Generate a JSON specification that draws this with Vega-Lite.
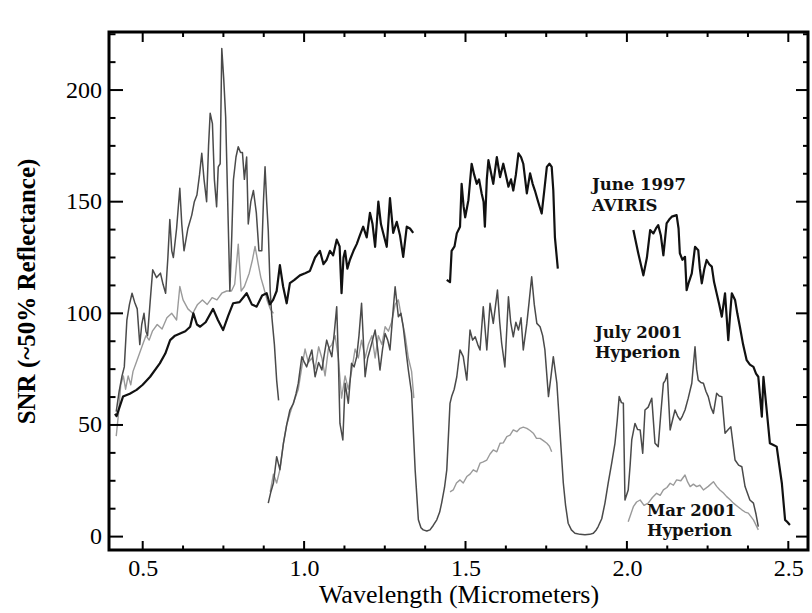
{
  "$schema": "https://vega.github.io/schema/vega-lite/v6.json",
  "width": 699,
  "height": 518,
  "autosize": {"type": "none"},
  "padding": {"left": 109, "top": 32, "right": 4, "bottom": 63},
  "background": "white",
  "config": {
    "view": {"stroke": "black", "strokeWidth": 3},
    "axis": {
      "grid": false,
      "domain": false,
      "ticks": false,
      "tickSize": 0,
      "labelFont": "Liberation Serif",
      "labelFontSize": 24,
      "labelColor": "black",
      "labelOverlap": false,
      "labelFlush": false,
      "titleFont": "Liberation Serif",
      "titleColor": "black",
      "titleFontWeight": "normal"
    },
    "tick": {"color": "black", "thickness": 2, "opacity": 1}
  },
  "datasets": {
    "x_major": [{"wl": 0.5}, {"wl": 1.0}, {"wl": 1.5}, {"wl": 2.0}, {"wl": 2.5}],
    "x_minor": [{"wl": 0.625}, {"wl": 0.75}, {"wl": 0.875}, {"wl": 1.125}, {"wl": 1.25}, {"wl": 1.375}, {"wl": 1.625}, {"wl": 1.75}, {"wl": 1.875}, {"wl": 2.125}, {"wl": 2.25}, {"wl": 2.375}],
    "y_major": [{"snr": 0}, {"snr": 50}, {"snr": 100}, {"snr": 150}, {"snr": 200}],
    "y_minor": [{"snr": 12.5}, {"snr": 25}, {"snr": 37.5}, {"snr": 62.5}, {"snr": 75}, {"snr": 87.5}, {"snr": 112.5}, {"snr": 125}, {"snr": 137.5}, {"snr": 162.5}, {"snr": 175}, {"snr": 187.5}, {"snr": 212.5}, {"snr": 225}],
    "aviris": [
      {"seg": 1, "wl": 0.414, "snr": 55}, {"seg": 1, "wl": 0.419, "snr": 54}, {"seg": 1, "wl": 0.439, "snr": 62.7}, {"seg": 1, "wl": 0.46, "snr": 64},
      {"seg": 1, "wl": 0.481, "snr": 65.7}, {"seg": 1, "wl": 0.5, "snr": 68}, {"seg": 1, "wl": 0.523, "snr": 71.6}, {"seg": 1, "wl": 0.553, "snr": 77.6},
      {"seg": 1, "wl": 0.57, "snr": 82}, {"seg": 1, "wl": 0.585, "snr": 88}, {"seg": 1, "wl": 0.6, "snr": 90}, {"seg": 1, "wl": 0.616, "snr": 91},
      {"seg": 1, "wl": 0.632, "snr": 92}, {"seg": 1, "wl": 0.647, "snr": 94}, {"seg": 1, "wl": 0.657, "snr": 100}, {"seg": 1, "wl": 0.668, "snr": 95},
      {"seg": 1, "wl": 0.678, "snr": 94}, {"seg": 1, "wl": 0.695, "snr": 96}, {"seg": 1, "wl": 0.718, "snr": 102}, {"seg": 1, "wl": 0.733, "snr": 97},
      {"seg": 1, "wl": 0.749, "snr": 92.5}, {"seg": 1, "wl": 0.765, "snr": 99}, {"seg": 1, "wl": 0.78, "snr": 104.5}, {"seg": 1, "wl": 0.8, "snr": 105},
      {"seg": 1, "wl": 0.822, "snr": 109}, {"seg": 1, "wl": 0.838, "snr": 104}, {"seg": 1, "wl": 0.853, "snr": 103}, {"seg": 1, "wl": 0.87, "snr": 108},
      {"seg": 1, "wl": 0.884, "snr": 109}, {"seg": 1, "wl": 0.894, "snr": 104}, {"seg": 1, "wl": 0.904, "snr": 106}, {"seg": 1, "wl": 0.915, "snr": 110},
      {"seg": 1, "wl": 0.925, "snr": 121.6}, {"seg": 1, "wl": 0.935, "snr": 112}, {"seg": 1, "wl": 0.946, "snr": 104.5}, {"seg": 1, "wl": 0.956, "snr": 113.5},
      {"seg": 1, "wl": 0.97, "snr": 115}, {"seg": 1, "wl": 0.987, "snr": 117}, {"seg": 1, "wl": 1.003, "snr": 118}, {"seg": 1, "wl": 1.018, "snr": 119},
      {"seg": 1, "wl": 1.034, "snr": 125}, {"seg": 1, "wl": 1.049, "snr": 128}, {"seg": 1, "wl": 1.06, "snr": 122}, {"seg": 1, "wl": 1.07, "snr": 124},
      {"seg": 1, "wl": 1.08, "snr": 128}, {"seg": 1, "wl": 1.09, "snr": 126}, {"seg": 1, "wl": 1.101, "snr": 133}, {"seg": 1, "wl": 1.11, "snr": 130},
      {"seg": 1, "wl": 1.116, "snr": 109}, {"seg": 1, "wl": 1.122, "snr": 125}, {"seg": 1, "wl": 1.127, "snr": 128}, {"seg": 1, "wl": 1.134, "snr": 120},
      {"seg": 1, "wl": 1.142, "snr": 124}, {"seg": 1, "wl": 1.153, "snr": 128}, {"seg": 1, "wl": 1.163, "snr": 131}, {"seg": 1, "wl": 1.173, "snr": 135},
      {"seg": 1, "wl": 1.183, "snr": 138.8}, {"seg": 1, "wl": 1.194, "snr": 134}, {"seg": 1, "wl": 1.204, "snr": 145}, {"seg": 1, "wl": 1.212, "snr": 140},
      {"seg": 1, "wl": 1.22, "snr": 129.8}, {"seg": 1, "wl": 1.23, "snr": 150}, {"seg": 1, "wl": 1.238, "snr": 140}, {"seg": 1, "wl": 1.245, "snr": 136},
      {"seg": 1, "wl": 1.256, "snr": 129.8}, {"seg": 1, "wl": 1.266, "snr": 151.6}, {"seg": 1, "wl": 1.276, "snr": 136}, {"seg": 1, "wl": 1.287, "snr": 141},
      {"seg": 1, "wl": 1.297, "snr": 135}, {"seg": 1, "wl": 1.307, "snr": 125.3}, {"seg": 1, "wl": 1.318, "snr": 138.8}, {"seg": 1, "wl": 1.328, "snr": 138},
      {"seg": 1, "wl": 1.338, "snr": 136},
      {"seg": 2, "wl": 1.442, "snr": 115}, {"seg": 2, "wl": 1.452, "snr": 114}, {"seg": 2, "wl": 1.457, "snr": 128}, {"seg": 2, "wl": 1.466, "snr": 130},
      {"seg": 2, "wl": 1.473, "snr": 135.8}, {"seg": 2, "wl": 1.483, "snr": 138.8}, {"seg": 2, "wl": 1.488, "snr": 158}, {"seg": 2, "wl": 1.494, "snr": 148},
      {"seg": 2, "wl": 1.499, "snr": 143}, {"seg": 2, "wl": 1.509, "snr": 150.7}, {"seg": 2, "wl": 1.519, "snr": 167}, {"seg": 2, "wl": 1.527, "snr": 162},
      {"seg": 2, "wl": 1.535, "snr": 158}, {"seg": 2, "wl": 1.542, "snr": 160}, {"seg": 2, "wl": 1.55, "snr": 153.7}, {"seg": 2, "wl": 1.556, "snr": 150},
      {"seg": 2, "wl": 1.56, "snr": 138.8}, {"seg": 2, "wl": 1.566, "snr": 160}, {"seg": 2, "wl": 1.571, "snr": 168.6}, {"seg": 2, "wl": 1.579, "snr": 163},
      {"seg": 2, "wl": 1.586, "snr": 158}, {"seg": 2, "wl": 1.597, "snr": 170}, {"seg": 2, "wl": 1.607, "snr": 161}, {"seg": 2, "wl": 1.617, "snr": 167},
      {"seg": 2, "wl": 1.625, "snr": 162}, {"seg": 2, "wl": 1.633, "snr": 156.7}, {"seg": 2, "wl": 1.641, "snr": 160}, {"seg": 2, "wl": 1.648, "snr": 155},
      {"seg": 2, "wl": 1.656, "snr": 162}, {"seg": 2, "wl": 1.664, "snr": 171.6}, {"seg": 2, "wl": 1.672, "snr": 170}, {"seg": 2, "wl": 1.679, "snr": 167},
      {"seg": 2, "wl": 1.69, "snr": 153.7}, {"seg": 2, "wl": 1.7, "snr": 162.7}, {"seg": 2, "wl": 1.708, "snr": 158}, {"seg": 2, "wl": 1.715, "snr": 155},
      {"seg": 2, "wl": 1.725, "snr": 150}, {"seg": 2, "wl": 1.736, "snr": 144.7}, {"seg": 2, "wl": 1.744, "snr": 155}, {"seg": 2, "wl": 1.752, "snr": 165.6},
      {"seg": 2, "wl": 1.76, "snr": 167}, {"seg": 2, "wl": 1.767, "snr": 165.6}, {"seg": 2, "wl": 1.772, "snr": 155}, {"seg": 2, "wl": 1.777, "snr": 134},
      {"seg": 2, "wl": 1.786, "snr": 120},
      {"seg": 3, "wl": 2.02, "snr": 137.3}, {"seg": 3, "wl": 2.035, "snr": 127}, {"seg": 3, "wl": 2.051, "snr": 117}, {"seg": 3, "wl": 2.062, "snr": 125},
      {"seg": 3, "wl": 2.072, "snr": 137.3}, {"seg": 3, "wl": 2.082, "snr": 135.8}, {"seg": 3, "wl": 2.09, "snr": 138}, {"seg": 3, "wl": 2.097, "snr": 139.5},
      {"seg": 3, "wl": 2.105, "snr": 135}, {"seg": 3, "wl": 2.113, "snr": 126}, {"seg": 3, "wl": 2.123, "snr": 140.3}, {"seg": 3, "wl": 2.131, "snr": 142},
      {"seg": 3, "wl": 2.139, "snr": 143.3}, {"seg": 3, "wl": 2.154, "snr": 144}, {"seg": 3, "wl": 2.16, "snr": 138}, {"seg": 3, "wl": 2.164, "snr": 126.9},
      {"seg": 3, "wl": 2.172, "snr": 124}, {"seg": 3, "wl": 2.18, "snr": 125.3}, {"seg": 3, "wl": 2.185, "snr": 110.4}, {"seg": 3, "wl": 2.192, "snr": 114},
      {"seg": 3, "wl": 2.201, "snr": 117.9}, {"seg": 3, "wl": 2.211, "snr": 129.8}, {"seg": 3, "wl": 2.221, "snr": 128.3}, {"seg": 3, "wl": 2.226, "snr": 120},
      {"seg": 3, "wl": 2.232, "snr": 113.4}, {"seg": 3, "wl": 2.24, "snr": 120}, {"seg": 3, "wl": 2.247, "snr": 123.9}, {"seg": 3, "wl": 2.255, "snr": 122},
      {"seg": 3, "wl": 2.263, "snr": 120.9}, {"seg": 3, "wl": 2.27, "snr": 114}, {"seg": 3, "wl": 2.278, "snr": 109}, {"seg": 3, "wl": 2.286, "snr": 104},
      {"seg": 3, "wl": 2.294, "snr": 98.5}, {"seg": 3, "wl": 2.304, "snr": 109}, {"seg": 3, "wl": 2.314, "snr": 88}, {"seg": 3, "wl": 2.32, "snr": 100},
      {"seg": 3, "wl": 2.325, "snr": 109}, {"seg": 3, "wl": 2.335, "snr": 106}, {"seg": 3, "wl": 2.342, "snr": 100}, {"seg": 3, "wl": 2.35, "snr": 94},
      {"seg": 3, "wl": 2.36, "snr": 86}, {"seg": 3, "wl": 2.371, "snr": 79}, {"seg": 3, "wl": 2.381, "snr": 77}, {"seg": 3, "wl": 2.392, "snr": 76},
      {"seg": 3, "wl": 2.4, "snr": 73}, {"seg": 3, "wl": 2.407, "snr": 71.6}, {"seg": 3, "wl": 2.418, "snr": 53.7}, {"seg": 3, "wl": 2.423, "snr": 71.6},
      {"seg": 3, "wl": 2.433, "snr": 56.7}, {"seg": 3, "wl": 2.443, "snr": 41.8}, {"seg": 3, "wl": 2.454, "snr": 41}, {"seg": 3, "wl": 2.464, "snr": 40.3},
      {"seg": 3, "wl": 2.472, "snr": 32}, {"seg": 3, "wl": 2.48, "snr": 23.9}, {"seg": 3, "wl": 2.49, "snr": 7.5}, {"seg": 3, "wl": 2.497, "snr": 6.5},
      {"seg": 3, "wl": 2.505, "snr": 5.2}
    ],
    "july": [
      {"seg": 1, "wl": 0.418, "snr": 56}, {"seg": 1, "wl": 0.427, "snr": 65}, {"seg": 1, "wl": 0.436, "snr": 72}, {"seg": 1, "wl": 0.443, "snr": 76},
      {"seg": 1, "wl": 0.451, "snr": 97}, {"seg": 1, "wl": 0.459, "snr": 104}, {"seg": 1, "wl": 0.467, "snr": 109}, {"seg": 1, "wl": 0.475, "snr": 105},
      {"seg": 1, "wl": 0.483, "snr": 102}, {"seg": 1, "wl": 0.491, "snr": 86}, {"seg": 1, "wl": 0.497, "snr": 95}, {"seg": 1, "wl": 0.504, "snr": 100},
      {"seg": 1, "wl": 0.51, "snr": 92}, {"seg": 1, "wl": 0.515, "snr": 90}, {"seg": 1, "wl": 0.523, "snr": 105}, {"seg": 1, "wl": 0.531, "snr": 119.5},
      {"seg": 1, "wl": 0.543, "snr": 116}, {"seg": 1, "wl": 0.555, "snr": 118}, {"seg": 1, "wl": 0.563, "snr": 113}, {"seg": 1, "wl": 0.571, "snr": 109},
      {"seg": 1, "wl": 0.578, "snr": 125}, {"seg": 1, "wl": 0.584, "snr": 142}, {"seg": 1, "wl": 0.59, "snr": 128}, {"seg": 1, "wl": 0.595, "snr": 125},
      {"seg": 1, "wl": 0.605, "snr": 138}, {"seg": 1, "wl": 0.615, "snr": 156}, {"seg": 1, "wl": 0.621, "snr": 140}, {"seg": 1, "wl": 0.628, "snr": 128},
      {"seg": 1, "wl": 0.64, "snr": 138}, {"seg": 1, "wl": 0.652, "snr": 144}, {"seg": 1, "wl": 0.66, "snr": 150}, {"seg": 1, "wl": 0.668, "snr": 153},
      {"seg": 1, "wl": 0.676, "snr": 162}, {"seg": 1, "wl": 0.683, "snr": 171.7}, {"seg": 1, "wl": 0.69, "snr": 160}, {"seg": 1, "wl": 0.698, "snr": 150},
      {"seg": 1, "wl": 0.704, "snr": 175}, {"seg": 1, "wl": 0.709, "snr": 189.6}, {"seg": 1, "wl": 0.716, "snr": 185}, {"seg": 1, "wl": 0.722, "snr": 160},
      {"seg": 1, "wl": 0.729, "snr": 147.7}, {"seg": 1, "wl": 0.734, "snr": 165.6}, {"seg": 1, "wl": 0.74, "snr": 167}, {"seg": 1, "wl": 0.745, "snr": 218.6},
      {"seg": 1, "wl": 0.751, "snr": 205}, {"seg": 1, "wl": 0.757, "snr": 188}, {"seg": 1, "wl": 0.765, "snr": 140}, {"seg": 1, "wl": 0.77, "snr": 110},
      {"seg": 1, "wl": 0.776, "snr": 135}, {"seg": 1, "wl": 0.781, "snr": 159.7}, {"seg": 1, "wl": 0.789, "snr": 170}, {"seg": 1, "wl": 0.796, "snr": 174.6},
      {"seg": 1, "wl": 0.803, "snr": 172}, {"seg": 1, "wl": 0.809, "snr": 172}, {"seg": 1, "wl": 0.815, "snr": 160}, {"seg": 1, "wl": 0.822, "snr": 170},
      {"seg": 1, "wl": 0.827, "snr": 140}, {"seg": 1, "wl": 0.835, "snr": 150}, {"seg": 1, "wl": 0.843, "snr": 155}, {"seg": 1, "wl": 0.852, "snr": 145},
      {"seg": 1, "wl": 0.86, "snr": 128}, {"seg": 1, "wl": 0.869, "snr": 128}, {"seg": 1, "wl": 0.874, "snr": 150}, {"seg": 1, "wl": 0.879, "snr": 165.6},
      {"seg": 1, "wl": 0.884, "snr": 150}, {"seg": 1, "wl": 0.889, "snr": 137}, {"seg": 1, "wl": 0.895, "snr": 110}, {"seg": 1, "wl": 0.9, "snr": 98.5},
      {"seg": 1, "wl": 0.908, "snr": 86}, {"seg": 1, "wl": 0.915, "snr": 70}, {"seg": 1, "wl": 0.921, "snr": 61},
      {"seg": 2, "wl": 0.889, "snr": 15}, {"seg": 2, "wl": 0.897, "snr": 20}, {"seg": 2, "wl": 0.905, "snr": 24}, {"seg": 2, "wl": 0.915, "snr": 35.8},
      {"seg": 2, "wl": 0.925, "snr": 30}, {"seg": 2, "wl": 0.936, "snr": 41.8}, {"seg": 2, "wl": 0.946, "snr": 50}, {"seg": 2, "wl": 0.956, "snr": 56.7},
      {"seg": 2, "wl": 0.967, "snr": 59.7}, {"seg": 2, "wl": 0.975, "snr": 64}, {"seg": 2, "wl": 0.982, "snr": 68.7}, {"seg": 2, "wl": 0.993, "snr": 80.6},
      {"seg": 2, "wl": 1.001, "snr": 78}, {"seg": 2, "wl": 1.008, "snr": 76}, {"seg": 2, "wl": 1.016, "snr": 80}, {"seg": 2, "wl": 1.024, "snr": 83.6},
      {"seg": 2, "wl": 1.034, "snr": 71.6}, {"seg": 2, "wl": 1.045, "snr": 78}, {"seg": 2, "wl": 1.055, "snr": 74.6}, {"seg": 2, "wl": 1.063, "snr": 82},
      {"seg": 2, "wl": 1.07, "snr": 88}, {"seg": 2, "wl": 1.078, "snr": 84}, {"seg": 2, "wl": 1.086, "snr": 80.6}, {"seg": 2, "wl": 1.094, "snr": 92},
      {"seg": 2, "wl": 1.101, "snr": 103}, {"seg": 2, "wl": 1.106, "snr": 80}, {"seg": 2, "wl": 1.111, "snr": 50.7}, {"seg": 2, "wl": 1.12, "snr": 43.3},
      {"seg": 2, "wl": 1.127, "snr": 68.7}, {"seg": 2, "wl": 1.137, "snr": 59.7}, {"seg": 2, "wl": 1.147, "snr": 77.6}, {"seg": 2, "wl": 1.155, "snr": 76},
      {"seg": 2, "wl": 1.163, "snr": 80.6}, {"seg": 2, "wl": 1.17, "snr": 90}, {"seg": 2, "wl": 1.178, "snr": 104.5}, {"seg": 2, "wl": 1.189, "snr": 71.6},
      {"seg": 2, "wl": 1.197, "snr": 80}, {"seg": 2, "wl": 1.204, "snr": 83.6}, {"seg": 2, "wl": 1.212, "snr": 88}, {"seg": 2, "wl": 1.22, "snr": 92.5},
      {"seg": 2, "wl": 1.228, "snr": 84}, {"seg": 2, "wl": 1.235, "snr": 74.6}, {"seg": 2, "wl": 1.243, "snr": 84}, {"seg": 2, "wl": 1.251, "snr": 91},
      {"seg": 2, "wl": 1.259, "snr": 88}, {"seg": 2, "wl": 1.266, "snr": 83.6}, {"seg": 2, "wl": 1.275, "snr": 100}, {"seg": 2, "wl": 1.282, "snr": 111.9},
      {"seg": 2, "wl": 1.292, "snr": 98.5}, {"seg": 2, "wl": 1.3, "snr": 100}, {"seg": 2, "wl": 1.307, "snr": 94}, {"seg": 2, "wl": 1.315, "snr": 84},
      {"seg": 2, "wl": 1.323, "snr": 74.6}, {"seg": 2, "wl": 1.333, "snr": 64.2}, {"seg": 2, "wl": 1.344, "snr": 29.9}, {"seg": 2, "wl": 1.354, "snr": 7.5},
      {"seg": 2, "wl": 1.362, "snr": 4}, {"seg": 2, "wl": 1.369, "snr": 3}, {"seg": 2, "wl": 1.38, "snr": 2.5}, {"seg": 2, "wl": 1.39, "snr": 3},
      {"seg": 2, "wl": 1.4, "snr": 5}, {"seg": 2, "wl": 1.411, "snr": 7.5}, {"seg": 2, "wl": 1.42, "snr": 11}, {"seg": 2, "wl": 1.426, "snr": 15},
      {"seg": 2, "wl": 1.435, "snr": 22}, {"seg": 2, "wl": 1.442, "snr": 29.9}, {"seg": 2, "wl": 1.452, "snr": 59.7}, {"seg": 2, "wl": 1.457, "snr": 62.7},
      {"seg": 2, "wl": 1.465, "snr": 66}, {"seg": 2, "wl": 1.473, "snr": 71.6}, {"seg": 2, "wl": 1.483, "snr": 83.6}, {"seg": 2, "wl": 1.493, "snr": 80.6},
      {"seg": 2, "wl": 1.504, "snr": 70.1}, {"seg": 2, "wl": 1.514, "snr": 92.5}, {"seg": 2, "wl": 1.522, "snr": 88}, {"seg": 2, "wl": 1.53, "snr": 89.5},
      {"seg": 2, "wl": 1.538, "snr": 86}, {"seg": 2, "wl": 1.545, "snr": 83.6}, {"seg": 2, "wl": 1.555, "snr": 103}, {"seg": 2, "wl": 1.566, "snr": 83.6},
      {"seg": 2, "wl": 1.576, "snr": 104.5}, {"seg": 2, "wl": 1.586, "snr": 95.5}, {"seg": 2, "wl": 1.599, "snr": 110.4}, {"seg": 2, "wl": 1.606, "snr": 96},
      {"seg": 2, "wl": 1.612, "snr": 86.6}, {"seg": 2, "wl": 1.622, "snr": 76}, {"seg": 2, "wl": 1.633, "snr": 107.4}, {"seg": 2, "wl": 1.64, "snr": 96},
      {"seg": 2, "wl": 1.648, "snr": 89.5}, {"seg": 2, "wl": 1.656, "snr": 96}, {"seg": 2, "wl": 1.664, "snr": 92.5}, {"seg": 2, "wl": 1.672, "snr": 98},
      {"seg": 2, "wl": 1.679, "snr": 83.6}, {"seg": 2, "wl": 1.69, "snr": 95.5}, {"seg": 2, "wl": 1.697, "snr": 105}, {"seg": 2, "wl": 1.705, "snr": 116.4},
      {"seg": 2, "wl": 1.713, "snr": 104}, {"seg": 2, "wl": 1.721, "snr": 95.5}, {"seg": 2, "wl": 1.731, "snr": 94}, {"seg": 2, "wl": 1.739, "snr": 90},
      {"seg": 2, "wl": 1.746, "snr": 83.6}, {"seg": 2, "wl": 1.757, "snr": 62.7}, {"seg": 2, "wl": 1.765, "snr": 72}, {"seg": 2, "wl": 1.772, "snr": 80.6},
      {"seg": 2, "wl": 1.783, "snr": 68.7}, {"seg": 2, "wl": 1.793, "snr": 46.3}, {"seg": 2, "wl": 1.803, "snr": 24}, {"seg": 2, "wl": 1.81, "snr": 14},
      {"seg": 2, "wl": 1.818, "snr": 6}, {"seg": 2, "wl": 1.828, "snr": 3}, {"seg": 2, "wl": 1.839, "snr": 1.5}, {"seg": 2, "wl": 1.855, "snr": 1},
      {"seg": 2, "wl": 1.87, "snr": 0.8}, {"seg": 2, "wl": 1.885, "snr": 1}, {"seg": 2, "wl": 1.896, "snr": 1.5}, {"seg": 2, "wl": 1.905, "snr": 3},
      {"seg": 2, "wl": 1.911, "snr": 4.5}, {"seg": 2, "wl": 1.922, "snr": 8}, {"seg": 2, "wl": 1.932, "snr": 15}, {"seg": 2, "wl": 1.942, "snr": 24},
      {"seg": 2, "wl": 1.953, "snr": 33}, {"seg": 2, "wl": 1.963, "snr": 41.8}, {"seg": 2, "wl": 1.97, "snr": 52}, {"seg": 2, "wl": 1.976, "snr": 62.7},
      {"seg": 2, "wl": 1.983, "snr": 60}, {"seg": 2, "wl": 1.989, "snr": 59.7}, {"seg": 2, "wl": 1.994, "snr": 16.4}, {"seg": 2, "wl": 2.004, "snr": 20.9},
      {"seg": 2, "wl": 2.01, "snr": 32}, {"seg": 2, "wl": 2.015, "snr": 43.3}, {"seg": 2, "wl": 2.025, "snr": 50.7}, {"seg": 2, "wl": 2.033, "snr": 48},
      {"seg": 2, "wl": 2.041, "snr": 47.8}, {"seg": 2, "wl": 2.049, "snr": 37.3}, {"seg": 2, "wl": 2.056, "snr": 56.7}, {"seg": 2, "wl": 2.066, "snr": 58},
      {"seg": 2, "wl": 2.077, "snr": 62}, {"seg": 2, "wl": 2.087, "snr": 41.8}, {"seg": 2, "wl": 2.097, "snr": 40.3}, {"seg": 2, "wl": 2.105, "snr": 55},
      {"seg": 2, "wl": 2.113, "snr": 68.7}, {"seg": 2, "wl": 2.119, "snr": 70}, {"seg": 2, "wl": 2.125, "snr": 73}, {"seg": 2, "wl": 2.134, "snr": 47.8},
      {"seg": 2, "wl": 2.141, "snr": 52}, {"seg": 2, "wl": 2.149, "snr": 56.7}, {"seg": 2, "wl": 2.157, "snr": 54}, {"seg": 2, "wl": 2.165, "snr": 52.2},
      {"seg": 2, "wl": 2.172, "snr": 54}, {"seg": 2, "wl": 2.18, "snr": 56.7}, {"seg": 2, "wl": 2.19, "snr": 62}, {"seg": 2, "wl": 2.201, "snr": 68.7},
      {"seg": 2, "wl": 2.211, "snr": 85}, {"seg": 2, "wl": 2.216, "snr": 75}, {"seg": 2, "wl": 2.221, "snr": 70.1}, {"seg": 2, "wl": 2.229, "snr": 69},
      {"seg": 2, "wl": 2.237, "snr": 68.7}, {"seg": 2, "wl": 2.245, "snr": 65}, {"seg": 2, "wl": 2.252, "snr": 62.7}, {"seg": 2, "wl": 2.26, "snr": 58},
      {"seg": 2, "wl": 2.268, "snr": 55.2}, {"seg": 2, "wl": 2.278, "snr": 64.2}, {"seg": 2, "wl": 2.286, "snr": 63}, {"seg": 2, "wl": 2.294, "snr": 62.7},
      {"seg": 2, "wl": 2.304, "snr": 46.3}, {"seg": 2, "wl": 2.314, "snr": 48}, {"seg": 2, "wl": 2.322, "snr": 49.2}, {"seg": 2, "wl": 2.33, "snr": 40},
      {"seg": 2, "wl": 2.335, "snr": 34.3}, {"seg": 2, "wl": 2.346, "snr": 32}, {"seg": 2, "wl": 2.356, "snr": 31.3}, {"seg": 2, "wl": 2.366, "snr": 22.4},
      {"seg": 2, "wl": 2.381, "snr": 16.4}, {"seg": 2, "wl": 2.392, "snr": 15}, {"seg": 2, "wl": 2.4, "snr": 10}, {"seg": 2, "wl": 2.407, "snr": 4.5}
    ],
    "march": [
      {"seg": 1, "wl": 0.418, "snr": 45}, {"seg": 1, "wl": 0.425, "snr": 55}, {"seg": 1, "wl": 0.432, "snr": 68}, {"seg": 1, "wl": 0.44, "snr": 72},
      {"seg": 1, "wl": 0.447, "snr": 66}, {"seg": 1, "wl": 0.455, "snr": 72}, {"seg": 1, "wl": 0.463, "snr": 68}, {"seg": 1, "wl": 0.47, "snr": 74},
      {"seg": 1, "wl": 0.48, "snr": 78}, {"seg": 1, "wl": 0.49, "snr": 82}, {"seg": 1, "wl": 0.5, "snr": 86}, {"seg": 1, "wl": 0.51, "snr": 90},
      {"seg": 1, "wl": 0.52, "snr": 88}, {"seg": 1, "wl": 0.53, "snr": 92}, {"seg": 1, "wl": 0.545, "snr": 95}, {"seg": 1, "wl": 0.56, "snr": 93},
      {"seg": 1, "wl": 0.575, "snr": 98}, {"seg": 1, "wl": 0.59, "snr": 100}, {"seg": 1, "wl": 0.605, "snr": 97}, {"seg": 1, "wl": 0.615, "snr": 112},
      {"seg": 1, "wl": 0.625, "snr": 106}, {"seg": 1, "wl": 0.64, "snr": 102}, {"seg": 1, "wl": 0.655, "snr": 100}, {"seg": 1, "wl": 0.67, "snr": 104},
      {"seg": 1, "wl": 0.685, "snr": 106}, {"seg": 1, "wl": 0.7, "snr": 104}, {"seg": 1, "wl": 0.715, "snr": 107}, {"seg": 1, "wl": 0.73, "snr": 106},
      {"seg": 1, "wl": 0.745, "snr": 109}, {"seg": 1, "wl": 0.76, "snr": 110}, {"seg": 1, "wl": 0.775, "snr": 110}, {"seg": 1, "wl": 0.785, "snr": 113},
      {"seg": 1, "wl": 0.796, "snr": 131}, {"seg": 1, "wl": 0.805, "snr": 110}, {"seg": 1, "wl": 0.815, "snr": 112}, {"seg": 1, "wl": 0.83, "snr": 118},
      {"seg": 1, "wl": 0.84, "snr": 124}, {"seg": 1, "wl": 0.848, "snr": 130}, {"seg": 1, "wl": 0.858, "snr": 122}, {"seg": 1, "wl": 0.866, "snr": 116},
      {"seg": 1, "wl": 0.874, "snr": 112}, {"seg": 1, "wl": 0.885, "snr": 106}, {"seg": 1, "wl": 0.895, "snr": 102}, {"seg": 1, "wl": 0.905, "snr": 100},
      {"seg": 2, "wl": 0.895, "snr": 20}, {"seg": 2, "wl": 0.905, "snr": 28}, {"seg": 2, "wl": 0.915, "snr": 24}, {"seg": 2, "wl": 0.925, "snr": 30},
      {"seg": 2, "wl": 0.936, "snr": 42}, {"seg": 2, "wl": 0.946, "snr": 50}, {"seg": 2, "wl": 0.956, "snr": 55}, {"seg": 2, "wl": 0.967, "snr": 60},
      {"seg": 2, "wl": 0.982, "snr": 66}, {"seg": 2, "wl": 0.993, "snr": 76}, {"seg": 2, "wl": 1.003, "snr": 84}, {"seg": 2, "wl": 1.013, "snr": 78},
      {"seg": 2, "wl": 1.024, "snr": 80}, {"seg": 2, "wl": 1.034, "snr": 75}, {"seg": 2, "wl": 1.045, "snr": 85}, {"seg": 2, "wl": 1.055, "snr": 80},
      {"seg": 2, "wl": 1.065, "snr": 72}, {"seg": 2, "wl": 1.075, "snr": 84}, {"seg": 2, "wl": 1.086, "snr": 86}, {"seg": 2, "wl": 1.096, "snr": 90},
      {"seg": 2, "wl": 1.106, "snr": 80}, {"seg": 2, "wl": 1.116, "snr": 62}, {"seg": 2, "wl": 1.127, "snr": 72}, {"seg": 2, "wl": 1.137, "snr": 66},
      {"seg": 2, "wl": 1.147, "snr": 74}, {"seg": 2, "wl": 1.158, "snr": 84}, {"seg": 2, "wl": 1.168, "snr": 80}, {"seg": 2, "wl": 1.178, "snr": 88},
      {"seg": 2, "wl": 1.189, "snr": 80}, {"seg": 2, "wl": 1.199, "snr": 86}, {"seg": 2, "wl": 1.21, "snr": 90}, {"seg": 2, "wl": 1.22, "snr": 80},
      {"seg": 2, "wl": 1.23, "snr": 90}, {"seg": 2, "wl": 1.241, "snr": 86}, {"seg": 2, "wl": 1.251, "snr": 94}, {"seg": 2, "wl": 1.261, "snr": 92},
      {"seg": 2, "wl": 1.271, "snr": 96}, {"seg": 2, "wl": 1.282, "snr": 104}, {"seg": 2, "wl": 1.292, "snr": 106}, {"seg": 2, "wl": 1.302, "snr": 98},
      {"seg": 2, "wl": 1.313, "snr": 90}, {"seg": 2, "wl": 1.323, "snr": 80}, {"seg": 2, "wl": 1.333, "snr": 74}, {"seg": 2, "wl": 1.34, "snr": 62},
      {"seg": 3, "wl": 1.452, "snr": 20}, {"seg": 3, "wl": 1.462, "snr": 20.9}, {"seg": 3, "wl": 1.472, "snr": 24}, {"seg": 3, "wl": 1.483, "snr": 25.4},
      {"seg": 3, "wl": 1.493, "snr": 24}, {"seg": 3, "wl": 1.504, "snr": 26.9}, {"seg": 3, "wl": 1.514, "snr": 28}, {"seg": 3, "wl": 1.524, "snr": 29.9},
      {"seg": 3, "wl": 1.535, "snr": 29}, {"seg": 3, "wl": 1.545, "snr": 32.9}, {"seg": 3, "wl": 1.555, "snr": 33.5}, {"seg": 3, "wl": 1.566, "snr": 34.3},
      {"seg": 3, "wl": 1.576, "snr": 37}, {"seg": 3, "wl": 1.586, "snr": 38.8}, {"seg": 3, "wl": 1.597, "snr": 38}, {"seg": 3, "wl": 1.607, "snr": 41.8},
      {"seg": 3, "wl": 1.617, "snr": 42}, {"seg": 3, "wl": 1.628, "snr": 44.8}, {"seg": 3, "wl": 1.638, "snr": 45.5}, {"seg": 3, "wl": 1.648, "snr": 47.8},
      {"seg": 3, "wl": 1.659, "snr": 47}, {"seg": 3, "wl": 1.669, "snr": 48.5}, {"seg": 3, "wl": 1.679, "snr": 49}, {"seg": 3, "wl": 1.69, "snr": 48.5},
      {"seg": 3, "wl": 1.7, "snr": 47.5}, {"seg": 3, "wl": 1.71, "snr": 46.3}, {"seg": 3, "wl": 1.72, "snr": 44}, {"seg": 3, "wl": 1.731, "snr": 44},
      {"seg": 3, "wl": 1.741, "snr": 43}, {"seg": 3, "wl": 1.752, "snr": 41.8}, {"seg": 3, "wl": 1.76, "snr": 40.5}, {"seg": 3, "wl": 1.767, "snr": 38},
      {"seg": 4, "wl": 2.004, "snr": 6.7}, {"seg": 4, "wl": 2.012, "snr": 10}, {"seg": 4, "wl": 2.02, "snr": 13.4}, {"seg": 4, "wl": 2.03, "snr": 15.5},
      {"seg": 4, "wl": 2.041, "snr": 16.4}, {"seg": 4, "wl": 2.053, "snr": 14}, {"seg": 4, "wl": 2.066, "snr": 15}, {"seg": 4, "wl": 2.079, "snr": 17.5},
      {"seg": 4, "wl": 2.092, "snr": 19.4}, {"seg": 4, "wl": 2.103, "snr": 18.5}, {"seg": 4, "wl": 2.113, "snr": 20.9}, {"seg": 4, "wl": 2.124, "snr": 22},
      {"seg": 4, "wl": 2.134, "snr": 23.9}, {"seg": 4, "wl": 2.144, "snr": 23}, {"seg": 4, "wl": 2.154, "snr": 25.4}, {"seg": 4, "wl": 2.167, "snr": 25},
      {"seg": 4, "wl": 2.18, "snr": 27.6}, {"seg": 4, "wl": 2.188, "snr": 24.5}, {"seg": 4, "wl": 2.196, "snr": 22.4}, {"seg": 4, "wl": 2.206, "snr": 23.5},
      {"seg": 4, "wl": 2.216, "snr": 22.4}, {"seg": 4, "wl": 2.226, "snr": 23}, {"seg": 4, "wl": 2.237, "snr": 20.9}, {"seg": 4, "wl": 2.252, "snr": 22.5},
      {"seg": 4, "wl": 2.268, "snr": 24.6}, {"seg": 4, "wl": 2.278, "snr": 22.5}, {"seg": 4, "wl": 2.288, "snr": 20.9}, {"seg": 4, "wl": 2.299, "snr": 19.5},
      {"seg": 4, "wl": 2.309, "snr": 17.9}, {"seg": 4, "wl": 2.32, "snr": 16.5}, {"seg": 4, "wl": 2.33, "snr": 15}, {"seg": 4, "wl": 2.343, "snr": 13.5},
      {"seg": 4, "wl": 2.356, "snr": 12}, {"seg": 4, "wl": 2.366, "snr": 11}, {"seg": 4, "wl": 2.376, "snr": 10.5}, {"seg": 4, "wl": 2.392, "snr": 7.5},
      {"seg": 4, "wl": 2.407, "snr": 3}
    ],
    "notes": [
      {"wl": 1.892, "snr": 157.6, "label": "June 1997"},
      {"wl": 1.892, "snr": 148.0, "label": "AVIRIS"},
      {"wl": 1.901, "snr": 91.4, "label": "July 2001"},
      {"wl": 1.901, "snr": 82.3, "label": "Hyperion"},
      {"wl": 2.062, "snr": 11.6, "label": "Mar 2001"},
      {"wl": 2.062, "snr": 2.6, "label": "Hyperion"}
    ]
  },
  "encoding": {
    "x": {"type": "quantitative", "scale": {"domain": [0.3956, 2.561], "nice": false, "zero": false}},
    "y": {"type": "quantitative", "scale": {"domain": [-6, 226], "nice": false, "zero": false}}
  },
  "layer": [
    {
      "data": {"name": "march"},
      "mark": {"type": "line", "color": "#9a9a9a", "strokeWidth": 1.4, "strokeJoin": "round"},
      "encoding": {
        "x": {"field": "wl", "type": "quantitative",
          "axis": {
            "orient": "bottom",
            "values": [0.5, 1, 1.5, 2, 2.5],
            "format": ".1f",
            "labelPadding": 6,
            "title": "Wavelength (Micrometers)",
            "titleFontSize": 26,
            "titlePadding": 1
          }},
        "y": {"field": "snr", "type": "quantitative",
          "axis": {
            "orient": "left",
            "values": [0, 50, 100, 150, 200],
            "labelPadding": 7.5,
            "title": "SNR (~50% Reflectance)",
            "titleFontSize": 25,
            "titleFontWeight": "bold",
            "titlePadding": 26
          }},
        "detail": {"field": "seg", "type": "nominal"}
      }
    },
    {
      "data": {"name": "july"},
      "mark": {"type": "line", "color": "#4a4a4a", "strokeWidth": 1.5, "strokeJoin": "round"},
      "encoding": {
        "x": {"field": "wl", "type": "quantitative", "axis": null},
        "y": {"field": "snr", "type": "quantitative", "axis": null},
        "detail": {"field": "seg", "type": "nominal"}
      }
    },
    {
      "data": {"name": "aviris"},
      "mark": {"type": "line", "color": "#111111", "strokeWidth": 2.2, "strokeJoin": "round"},
      "encoding": {
        "x": {"field": "wl", "type": "quantitative", "axis": null},
        "y": {"field": "snr", "type": "quantitative", "axis": null},
        "detail": {"field": "seg", "type": "nominal"}
      }
    },
    {
      "data": {"name": "notes"},
      "mark": {"type": "text", "align": "left", "baseline": "middle", "font": "DejaVu Serif", "fontWeight": "bold", "fontSize": 16.5, "color": "#111111"},
      "encoding": {
        "x": {"field": "wl", "type": "quantitative", "axis": null},
        "y": {"field": "snr", "type": "quantitative", "axis": null},
        "text": {"field": "label", "type": "nominal"}
      }
    },
    {
      "data": {"name": "x_major"},
      "mark": {"type": "tick", "orient": "vertical", "size": 18, "clip": true},
      "encoding": {"x": {"field": "wl", "type": "quantitative", "axis": null}, "y": {"datum": -6, "type": "quantitative", "axis": null}}
    },
    {
      "data": {"name": "x_minor"},
      "mark": {"type": "tick", "orient": "vertical", "size": 9, "clip": true},
      "encoding": {"x": {"field": "wl", "type": "quantitative", "axis": null}, "y": {"datum": -6, "type": "quantitative", "axis": null}}
    },
    {
      "data": {"name": "x_major"},
      "mark": {"type": "tick", "orient": "vertical", "size": 20, "clip": true},
      "encoding": {"x": {"field": "wl", "type": "quantitative", "axis": null}, "y": {"datum": 226, "type": "quantitative", "axis": null}}
    },
    {
      "data": {"name": "x_minor"},
      "mark": {"type": "tick", "orient": "vertical", "size": 10, "clip": true},
      "encoding": {"x": {"field": "wl", "type": "quantitative", "axis": null}, "y": {"datum": 226, "type": "quantitative", "axis": null}}
    },
    {
      "data": {"name": "y_major"},
      "mark": {"type": "tick", "orient": "horizontal", "size": 28, "clip": true},
      "encoding": {"y": {"field": "snr", "type": "quantitative", "axis": null}, "x": {"datum": 0.3956, "type": "quantitative", "axis": null}}
    },
    {
      "data": {"name": "y_minor"},
      "mark": {"type": "tick", "orient": "horizontal", "size": 13, "clip": true},
      "encoding": {"y": {"field": "snr", "type": "quantitative", "axis": null}, "x": {"datum": 0.3956, "type": "quantitative", "axis": null}}
    },
    {
      "data": {"name": "y_major"},
      "mark": {"type": "tick", "orient": "horizontal", "size": 24, "clip": true},
      "encoding": {"y": {"field": "snr", "type": "quantitative", "axis": null}, "x": {"datum": 2.561, "type": "quantitative", "axis": null}}
    },
    {
      "data": {"name": "y_minor"},
      "mark": {"type": "tick", "orient": "horizontal", "size": 10, "clip": true},
      "encoding": {"y": {"field": "snr", "type": "quantitative", "axis": null}, "x": {"datum": 2.561, "type": "quantitative", "axis": null}}
    }
  ],
  "resolve": {"axis": {"x": "independent", "y": "independent"}}
}
